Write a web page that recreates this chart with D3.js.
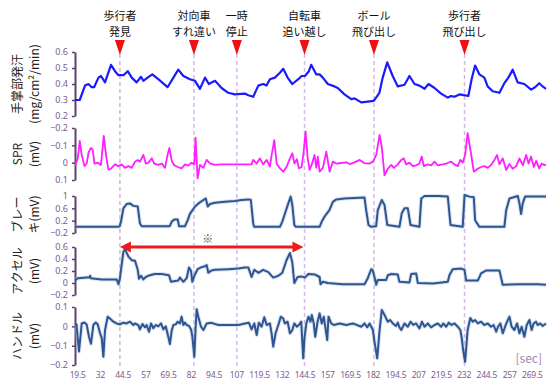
<!DOCTYPE html>
<html>
<head>
<meta charset="utf-8">
<script src="https://cdn.jsdelivr.net/npm/d3@7"></script>
<style>
  body { margin: 0; background: #fff; }
  svg { display: block; font-family: "Noto Sans CJK JP", "Noto Sans", sans-serif; }
</style>
</head>
<body>
<div id="chart"></div>
<script>
// time axis labels [sec]
const xTicks = [19.5, 32, 44.5, 57, 69.5, 82, 94.5, 107, 119.5, 132, 144.5, 157, 169.5, 182, 194.5, 207, 219.5, 232, 244.5, 257, 269.5];

// events
const eventTimes = [42.7, 83.4, 107, 144.2, 182.4, 232.2];
const eventLabels = [['歩行者', '発見'], ['対向車', 'すれ違い'], ['一時', '停止'], ['自転車', '追い越し'], ['ボール', '飛び出し'], ['歩行者', '飛び出し']];
const arrowSpan = [42.7, 143.6];

// series: [sec, value]
const sweat = [[18,0.30],[20.6,0.30],[23.5,0.39],[25.4,0.40],[27.2,0.38],[28.5,0.38],[30.9,0.44],[32.3,0.45],[34.5,0.41],[37.8,0.52],[40,0.48],[41.9,0.455],[44.6,0.455],[47,0.48],[49.2,0.44],[51.9,0.41],[54.3,0.445],[55.6,0.42],[57.9,0.44],[60.5,0.46],[63.8,0.43],[68.9,0.38],[72.1,0.44],[74.8,0.49],[77.6,0.45],[81.2,0.43],[84,0.42],[86.7,0.37],[89.5,0.44],[91.6,0.40],[95,0.42],[98.6,0.375],[102.3,0.345],[105.9,0.335],[111.4,0.34],[113.3,0.33],[116,0.32],[118.8,0.39],[121.5,0.40],[123.3,0.39],[125.2,0.43],[127.9,0.44],[130.7,0.47],[132.5,0.495],[134.9,0.44],[137.5,0.40],[140.8,0.43],[142.6,0.45],[144.4,0.45],[146.6,0.48],[147.9,0.52],[150.7,0.46],[152.5,0.46],[154.3,0.44],[157,0.40],[160.7,0.385],[162.5,0.375],[166.2,0.335],[169.9,0.305],[171.7,0.31],[175.4,0.285],[179,0.29],[182.3,0.295],[185.4,0.345],[187.2,0.44],[189.7,0.535],[192.7,0.45],[195.5,0.385],[199.2,0.395],[201.9,0.45],[204.7,0.40],[207.4,0.39],[210.2,0.37],[212.4,0.40],[215.7,0.375],[219.3,0.34],[223,0.315],[224.8,0.325],[226.6,0.32],[229.4,0.335],[231.8,0.33],[234.3,0.325],[236.1,0.43],[238,0.515],[240.4,0.46],[243.1,0.44],[244.9,0.385],[247.7,0.355],[251.4,0.345],[254.1,0.405],[256.3,0.44],[258.7,0.49],[261.4,0.41],[265.1,0.40],[268.8,0.365],[271,0.38],[273.3,0.405],[275.7,0.38],[277,0.37]];

const spr = [[18,0.02],[19.5,-0.025],[20.6,-0.125],[21.7,-0.045],[23.2,0.02],[24.4,0.005],[25.5,-0.06],[26.8,-0.085],[27.7,-0.075],[28.7,0.005],[30.5,0],[32.3,0.013],[33.8,-0.155],[35.3,-0.025],[36.4,0.04],[37.8,0.035],[40,0.01],[41.9,0.02],[43.7,0.01],[45.5,0.03],[47.4,0.02],[49.2,0.03],[51,-0.005],[52.5,-0.015],[53.7,-0.005],[55.6,-0.045],[56.9,0.005],[58.4,0],[60.2,-0.025],[61.6,0.005],[63.8,0.013],[65.7,0.005],[67.5,0.03],[68.9,-0.045],[69.9,-0.085],[71.2,-0.01],[72.6,0.015],[74.5,0.025],[76.6,0.033],[78.5,0.01],[80.3,0.017],[82.1,0],[83.6,0.01],[84.3,-0.145],[85.4,0.09],[86.7,0.013],[88.6,0.03],[90.4,-0.016],[92.2,0.004],[94.9,0.013],[97.7,0.01],[115.1,0.01],[116,-0.016],[117.9,0.005],[119.7,-0.025],[121.5,0.01],[123.4,-0.016],[125.2,0.023],[126.1,-0.044],[127.6,-0.13],[128.9,0.005],[130.7,0.033],[132.5,0.052],[134.3,0.025],[136.2,-0.025],[137.5,-0.054],[138.7,0.005],[140,-0.02],[141.1,0.033],[142.6,0.025],[143.7,-0.06],[144.8,-0.18],[145.9,-0.03],[147,0.042],[148.2,0.01],[149.7,-0.044],[150.7,0.03],[151.5,-0.035],[152.5,0.052],[154.3,0.03],[156.2,-0.064],[158,0.052],[159.8,-0.006],[161.7,0.005],[164.4,0.002],[167.2,-0.002],[169,0.008],[171.7,-0.002],[174.5,-0.016],[177.2,0.003],[180,0.005],[181.8,-0.006],[183.6,-0.044],[185.5,-0.16],[186.7,-0.09],[188.2,0.073],[190,0.035],[191.9,0.013],[193.3,0.03],[195.5,0.01],[197.4,-0.016],[198.8,-0.025],[200.1,0.01],[201.9,0],[203.8,0.02],[205.6,0.015],[207.4,0.005],[208.7,-0.035],[209.8,0.02],[212,0.01],[213.8,0.015],[215.7,-0.006],[217.5,0.015],[220.2,0.01],[222.1,0.005],[224.8,-0.006],[226.6,0.01],[228.5,0.02],[229.9,-0.016],[231.2,0],[232.5,-0.044],[233.9,-0.17],[235.8,-0.05],[237.3,0.052],[239.5,0.035],[241.3,0.025],[243.1,0.02],[245,0.03],[246.8,0.013],[248.6,-0.016],[250.1,-0.044],[251.4,0.01],[253.2,-0.025],[255.1,0.042],[256.9,0.008],[258.7,0.035],[260.6,0.02],[262.4,-0.025],[264.3,0.015],[266.1,-0.044],[267.4,0.005],[268.8,-0.035],[270.3,0.025],[271.6,-0.01],[273.3,0.033],[274.6,0.005],[276.1,0.015],[277,0.01]];

const brake = [[18,0],[41.9,0],[42.6,0.02],[43.3,0.17],[44.6,0.6],[46.4,0.74],[48.2,0.76],[50.1,0.68],[52.5,0.66],[53.7,0.11],[54.7,0.02],[70.1,0.02],[71.2,0.17],[72.7,0.24],[74.5,0.24],[75.2,0.02],[78.5,0.02],[80,0.22],[81.2,0.42],[84,0.66],[85.9,0.76],[88.6,0.87],[89.9,0.92],[91,0.66],[92.2,0.74],[94.9,0.78],[100.4,0.81],[105.9,0.84],[109.6,0.87],[113.3,0.89],[114.7,0.87],[116,0.11],[116.5,0],[130.7,0],[132,0.17],[133.5,0.44],[135.3,0.76],[136.6,0.98],[137.5,0.71],[138.6,0.06],[139.5,0],[152.5,0],[153.7,0.17],[155.2,0.33],[157.9,0.54],[159.8,0.81],[161.7,0.89],[166.2,0.92],[177.2,0.95],[178.1,0.54],[179.4,0.06],[180.9,0],[183.6,0.02],[184.5,0.54],[186.7,0.87],[188.2,0.71],[189.7,0.06],[196.4,0],[197.7,0.44],[199.2,0.6],[201,0.6],[202.5,0.06],[207.4,0],[208.4,0.92],[210.2,1],[217.5,1],[223,0.98],[224.5,0.06],[231.2,0],[232.2,1.03],[234.9,0.98],[237.3,0.96],[238,0.22],[239.1,0.11],[240.4,0],[254.1,0],[255.1,0.54],[256.9,0.92],[261.5,1],[262.4,0.76],[263.3,0.42],[264.2,0.76],[265.5,0.98],[277,0.98]];

const accel = [[18,0.04],[19.5,0.08],[24.4,0.09],[26,0.09],[26.3,0.12],[26.7,0.08],[32.7,0.06],[40.9,0.06],[41.9,-0.02],[42.7,0.08],[44.6,0.52],[45.5,0.56],[47.4,0.44],[49.2,0.38],[51,0.37],[52.5,0.22],[53.2,0.07],[54.3,0.12],[55.6,0.06],[56.9,0.1],[59.2,0.13],[61.9,0.15],[65.7,0.15],[69.7,0.13],[70.8,0.02],[74.8,0.04],[75.7,0.09],[77.6,0.02],[79.4,0.08],[80.7,0.26],[81.8,0.2],[82.5,0.02],[83.6,0.12],[85.4,0.23],[87.3,0.26],[89.5,0.28],[90.4,0.3],[91.3,0.17],[93.1,0.21],[94.9,0.22],[102.3,0.23],[107.8,0.24],[111.4,0.26],[113.3,0.26],[115.1,0.1],[116.6,0.22],[118.8,0.17],[121.5,0.22],[124.3,0.18],[127,0.09],[129.8,0.12],[132,0.17],[134.3,0.38],[136.2,0.5],[137.5,0.34],[138.6,0],[140.4,0.1],[142.6,0.11],[144.4,0.09],[146.3,0.15],[150,0.14],[152.5,0.1],[153,-0.02],[154.3,0.02],[157,0],[165,-0.02],[177.2,-0.02],[179,0.08],[180.9,0.23],[181.6,0.22],[183.1,0.05],[183.6,-0.03],[184.5,0.05],[189.1,0.05],[190,0.13],[191.9,0.15],[195.5,0.14],[196.4,0.02],[201.9,0.01],[202.9,0.15],[205.6,0.16],[206.5,0],[215,-0.01],[223,0.02],[223.9,0.13],[225.7,0.23],[230.3,0.24],[232.2,0.22],[233.1,0.04],[239.5,0.04],[241.3,0.16],[244.1,0.21],[251.4,0.21],[253.2,-0.03],[262,-0.02],[272.4,-0.02],[277,-0.03]];

const handle = [[18,0.015],[18.8,0.01],[20.2,-0.13],[21.7,0.015],[23.2,0.02],[24.4,0.01],[25.7,-0.054],[26.8,-0.09],[28.1,0.007],[29.4,0.02],[30.5,0.01],[31.8,-0.036],[32.7,-0.06],[33.6,-0.157],[34.5,-0.02],[36,0.05],[37.2,0.04],[39.1,0.024],[40.9,0.015],[42.7,0.01],[44.6,0.019],[46.4,0.015],[48.2,0.024],[50.1,0.007],[51,0.015],[52.9,0.005],[53.7,-0.016],[55.1,0.012],[56.5,-0.005],[57.4,0.007],[58.7,-0.028],[59.8,0.015],[61.1,-0.01],[62.4,0.007],[63.8,0],[65.3,0.015],[66.6,-0.016],[67.9,0],[69.3,-0.054],[70.2,-0.092],[71.2,-0.02],[72.1,0.007],[73.4,0.01],[74.5,0.024],[75.7,0.015],[76.6,0.05],[77.6,0.007],[78.5,0.019],[79.4,0.007],[80.7,0.002],[81.8,-0.016],[82.5,-0.05],[83.6,-0.157],[84.3,-0.01],[84.9,0.088],[85.8,0.05],[87.3,-0.002],[88.6,-0.019],[90.4,0.015],[93,0.018],[96.8,0.007],[102,0.007],[107.8,0.007],[111.4,0.015],[113.6,0.019],[115.1,-0.016],[116.6,0.015],[117.9,-0.045],[119.1,0.019],[120.6,-0.002],[122.1,0.047],[123.4,0.007],[125.2,0.015],[126.1,-0.036],[127,-0.105],[128.3,-0.036],[129.8,0.007],[131.2,0.05],[132.5,0.04],[133.4,0.015],[134.9,0.024],[136.2,-0.036],[137.5,-0.019],[138.6,0.015],[140,-0.002],[141.1,0.007],[142.4,0.024],[143.5,-0.165],[144.2,-0.06],[145.2,0.015],[146.4,0.05],[147.5,0.024],[148.2,0.059],[149.3,0.015],[150.1,-0.054],[151.4,0.024],[152.5,0.067],[153.7,0.015],[154.8,0.05],[155.6,-0.002],[156.7,-0.071],[157.4,0.05],[158.9,0.015],[160.3,0.007],[163.5,0.015],[167.2,0.007],[170.8,0.015],[175.4,-0.002],[177.2,0.015],[178.7,-0.005],[180,0.015],[181.8,-0.019],[182.7,-0.08],[184.2,-0.165],[185.5,-0.019],[186.7,0.084],[188.2,0.059],[190,0.024],[191.3,0.032],[192.8,0.015],[194.5,0.002],[195.5,0.019],[196.4,-0.005],[197.4,-0.019],[199.2,0.015],[201,-0.002],[202.5,0.024],[204,0.007],[205.6,0.015],[207.4,-0.011],[208.8,0.024],[210.2,-0.002],[212,0.015],[213.8,-0.005],[215.7,0.007],[217.5,0.015],[219.4,-0.002],[220.5,0.015],[222.1,-0.002],[223.5,0.019],[225,0.007],[226.7,0.015],[228.5,-0.002],[229.9,-0.019],[230.7,-0.062],[231.4,-0.12],[232.5,-0.183],[233.9,-0.019],[235.4,0.043],[236.7,0.024],[238,0.032],[239.5,0.015],[241.3,0.024],[243.1,0.007],[245,0.015],[246.8,-0.002],[248.2,0.007],[249.6,-0.028],[250.6,-0.002],[251.9,0.015],[253.2,-0.036],[254.5,-0.002],[255.6,0.024],[256.9,0.05],[258.1,-0.002],[259.6,-0.019],[261.1,0.015],[262.4,-0.036],[263.6,-0.002],[265.1,-0.054],[266.4,0.007],[267.9,0.033],[269.1,-0.019],[270.2,0.015],[271.5,0.024],[272.4,0.007],[273.8,0.015],[275.2,0.002],[277,0.015]];

// y-axis ticks per panel
const sweatTicks = [0.2, 0.3, 0.4, 0.5, 0.6];
const sprTicks = [-0.2, -0.1, 0, 0.1];
const brakeTicks = [-0.2, 0.2, 0.6, 1];
const accelTicks = [-0.2, 0, 0.2, 0.4, 0.6];
const handleTicks = [-0.2, -0.1, 0, 0.1];

const width = 550;
const height = 380;
const axisColor = '#5e3f6e';
const tickColor = '#7d5b8e';
const steel = '#2d5591';

const svg = d3.select('#chart').append('svg')
  .attr('width', width)
  .attr('height', height);

const x = d3.scaleLinear().domain([18, 277]).range([75, 546]);

const panels = [
  { data: sweat, ticks: sweatTicks, domain: [0.2, 0.6], range: [116, 52], color: '#1a1aff', w: 2.2, title: ['手掌部発汗', '(mg/cm²/min)'] },
  { data: spr, ticks: sprTicks, domain: [-0.2, 0.1], range: [128, 180], color: '#ff1eff', w: 1.8, title: ['SPR', '(mV)'] },
  { data: brake, ticks: brakeTicks, domain: [-0.2, 1], range: [233, 196], color: steel, w: 2, title: ['ブレー', 'キ(mV)'] },
  { data: accel, ticks: accelTicks, domain: [-0.2, 0.6], range: [295, 247], color: steel, w: 2, title: ['アクセル', '(mV)'] },
  { data: handle, ticks: handleTicks, domain: [-0.2, 0.1], range: [365, 307], color: steel, w: 2, title: ['ハンドル', '(mV)'] },
];

// event guide lines (behind the data)
const guides = svg.append('g');
eventTimes.forEach((t, i) => {
  guides.append('line')
    .attr('x1', x(t)).attr('x2', x(t))
    .attr('y1', 54).attr('y2', 368)
    .attr('stroke', i === 0 ? '#d9b6c8' : '#d5b8ea')
    .attr('stroke-width', 1.5)
    .attr('stroke-dasharray', '4,3');
});

panels.forEach((p) => {
  const y = d3.scaleLinear().domain(p.domain).range(p.range);
  const g = svg.append('g');

  const axis = g.append('g')
    .attr('transform', 'translate(75,0)')
    .call(d3.axisLeft(y).tickValues(p.ticks).tickSize(3).tickSizeOuter(0).tickFormat(d3.format('')));
  axis.select('.domain').attr('stroke', axisColor).attr('stroke-width', 2);
  axis.selectAll('.tick line').attr('stroke', axisColor).attr('stroke-width', 1.5);
  axis.selectAll('.tick text')
    .attr('fill', tickColor)
    .attr('x', -7)
    .style('font-size', '9px')
    .style('font-family', '"Noto Sans", sans-serif');

  const cy = (p.range[0] + p.range[1]) / 2;
  p.title.forEach((s, k) => {
    g.append('text')
      .attr('transform', `translate(${k === 0 ? 22 : 39},${cy}) rotate(-90)`)
      .attr('text-anchor', 'middle')
      .style('font-size', '12px')
      .attr('fill', '#222')
      .text(s);
  });

  const line = d3.line().x((d) => x(d[0])).y((d) => y(d[1]));
  if (p.color === steel) {
    g.append('path').datum(p.data)
      .attr('d', line)
      .attr('fill', 'none')
      .attr('stroke', '#b5c6e0')
      .attr('stroke-width', 4)
      .attr('stroke-opacity', 0.5)
      .attr('stroke-linejoin', 'round');
  }
  g.append('path').datum(p.data)
    .attr('d', line)
    .attr('fill', 'none')
    .attr('stroke', p.color)
    .attr('stroke-width', p.w)
    .attr('stroke-linejoin', 'round');

  if (p.data === accel) {
    // double-headed red arrow
    const ay = y(0.6);
    const x0 = x(arrowSpan[0]);
    const x1 = x(arrowSpan[1]);
    g.append('line')
      .attr('x1', x0 + 8).attr('x2', x1 - 8)
      .attr('y1', ay).attr('y2', ay)
      .attr('stroke', '#ea1c1c')
      .attr('stroke-width', 3);
    g.append('path')
      .attr('d', `M${x0},${ay}L${x0 + 11},${ay - 5.5}L${x0 + 11},${ay + 5.5}Z`)
      .attr('fill', '#ea1c1c');
    g.append('path')
      .attr('d', `M${x1},${ay}L${x1 - 11},${ay - 5.5}L${x1 - 11},${ay + 5.5}Z`)
      .attr('fill', '#ea1c1c');
    g.append('text')
      .attr('x', (x0 + x1) / 2 - 4)
      .attr('y', ay - 4)
      .attr('text-anchor', 'middle')
      .attr('fill', '#555')
      .style('font-size', '11px')
      .text('※');
  }
});

// event markers and two-line labels
eventTimes.forEach((t, i) => {
  const ex = x(t);
  svg.append('path')
    .attr('d', `M${ex - 5},40L${ex + 5},40L${ex},55Z`)
    .attr('fill', '#f01010');
  const label = svg.append('text')
    .attr('x', ex)
    .attr('y', 19.5)
    .attr('text-anchor', 'middle')
    .attr('fill', '#111')
    .style('font-size', '11px');
  eventLabels[i].forEach((s, k) => {
    label.append('tspan')
      .attr('x', ex)
      .attr('dy', k === 0 ? 0 : 16)
      .text(s);
  });
});

// x labels
svg.append('g').selectAll('text')
  .data(xTicks)
  .enter()
  .append('text')
  .attr('x', (d) => x(d))
  .attr('y', 378)
  .attr('text-anchor', 'middle')
  .attr('fill', tickColor)
  .style('font-size', '8.5px')
  .style('letter-spacing', '-0.2px')
  .style('font-family', '"Noto Sans", sans-serif')
  .text((d) => d);

svg.append('text')
  .attr('x', 542)
  .attr('y', 363)
  .attr('text-anchor', 'end')
  .attr('fill', '#9c86ae')
  .style('font-size', '12px')
  .text('[sec]');
</script>
</body>
</html>
